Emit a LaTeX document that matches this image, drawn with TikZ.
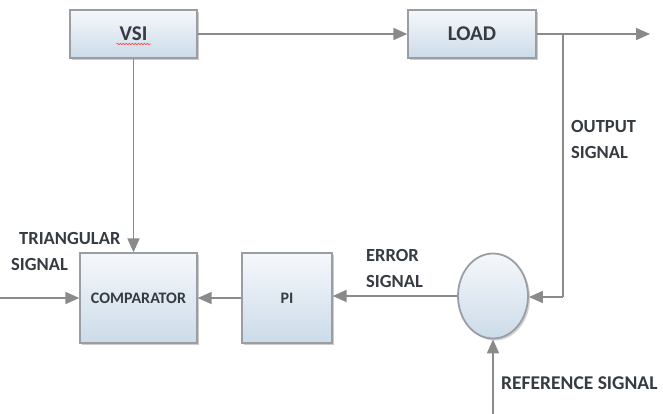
\documentclass[tikz,border=0pt]{standalone}
\usepackage{fontspec}
\setmainfont{Carlito}
\usetikzlibrary{arrows.meta,shapes.geometric,shadows,decorations.pathmorphing}

\definecolor{wire}{HTML}{8A8A8A}
\definecolor{edge}{HTML}{9A9EA2}
\definecolor{ink}{HTML}{363B41}
\definecolor{boxtop}{HTML}{F5F8FB}
\definecolor{boxbot}{HTML}{CCDBE9}

\tikzset{
  block/.style={draw=edge, line width=1.3pt, top color=boxtop, bottom color=boxbot,
    drop shadow={shadow xshift=2pt, shadow yshift=-2pt, opacity=0.4, fill=gray},
    font=\bfseries, text=ink, inner sep=0pt},
  summer/.style={ellipse, draw=edge, line width=1.8pt, top color=boxtop, bottom color=boxbot,
    inner sep=0pt, minimum width=70pt, minimum height=85pt},
  wireline/.style={draw=wire, line width=1.8pt},
  flow/.style={wireline, -{Triangle[length=14pt, width=12pt]}},
  caption/.style={font=\bfseries\fontsize{18.5}{26}\selectfont, text=ink, align=left, inner sep=0pt}
}

\begin{document}
\begin{tikzpicture}[x=1pt, y=-1pt]
  \useasboundingbox (0,0) rectangle (663,414);

  % forward path blocks
  \node[block, minimum width=127pt, minimum height=48pt, font=\bfseries\fontsize{21}{23}\selectfont]
    (vsi) at (133.5,34) {VSI};
  \node[block, minimum width=128pt, minimum height=48pt, font=\bfseries\fontsize{21}{23}\selectfont]
    (load) at (472,34) {LOAD};

  % control loop blocks
  \node[block, minimum width=117pt, minimum height=90pt, font=\bfseries\fontsize{16}{18}\selectfont]
    (comp) at (138.5,298) {COMPARATOR};
  \node[block, minimum width=90pt, minimum height=90pt, font=\bfseries\fontsize{16}{18}\selectfont]
    (pi) at (287,298) {PI};
  \node[summer, drop shadow={shadow xshift=2pt, shadow yshift=-2pt, opacity=0.35, fill=gray}]
    (sum) at (493,296) {};

  % spell-check squiggle under VSI
  \draw[red!70!white, line width=0.7pt, decorate,
        decoration={snake, segment length=3pt, amplitude=0.7pt}]
    ([xshift=-17pt, yshift=-10pt]vsi.center) -- ([xshift=17pt, yshift=-10pt]vsi.center);

  % free ends
  \coordinate (outend) at (650,34);
  \coordinate (tap) at (563,34);
  \coordinate (tapdown) at (563,297);
  \coordinate (triin) at (0,298);
  \coordinate (refin) at (493,414);

  % connectors
  \draw[flow] (vsi.east) -- (load.west);
  \draw[flow] (load.east) -- (outend);
  \draw[flow] (vsi.south) -- (vsi.south |- comp.north);
  \draw[flow] (triin) -- (comp.west);
  \draw[flow] (pi.west) -- (comp.east);
  \draw[flow] (sum.west) -- (sum.west -| pi.east);
  \draw[wireline] (tap) -- (tapdown);
  \draw[flow] (tapdown) -- (tapdown -| sum.east);
  \draw[flow] (refin) -- (sum.south);

  % labels
  \node[caption, anchor=west] (outlbl) at (571,139) {OUTPUT\\SIGNAL};
  \node[caption, anchor=west] (errlbl) at (366,268) {ERROR\\SIGNAL};
  \node[caption, anchor=west] (trilbl) at (11,251) {\hspace*{8pt}TRIANGULAR\\SIGNAL};
  \node[caption, anchor=west, font=\bfseries\fontsize{19.5}{22}\selectfont] (reflbl) at (501,383) {REFERENCE SIGNAL};
\end{tikzpicture}
\end{document}
